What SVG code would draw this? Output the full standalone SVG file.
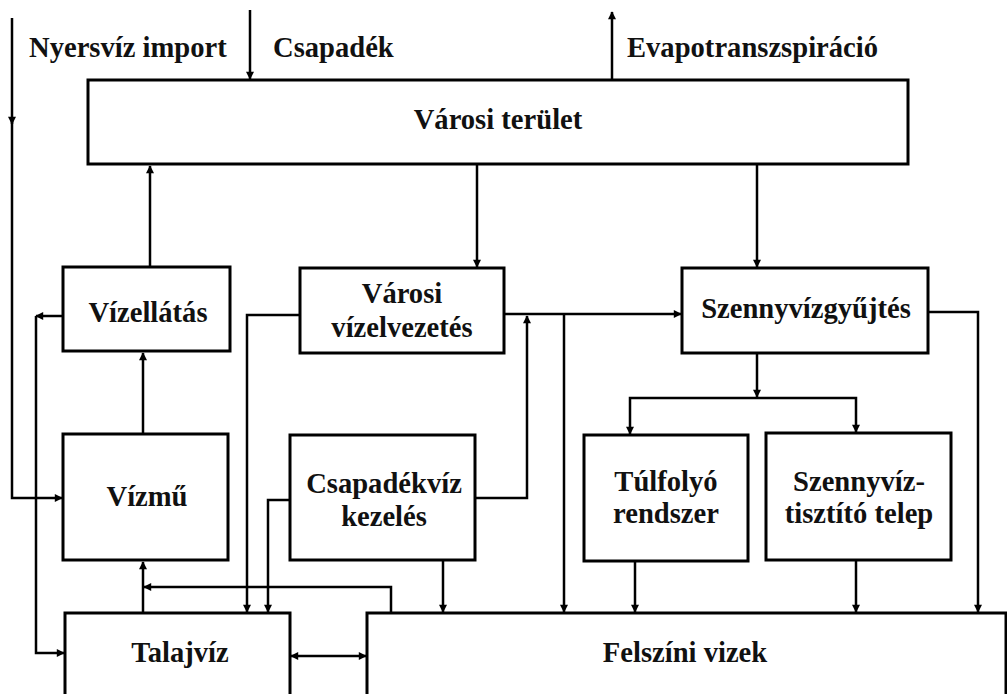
<svg xmlns="http://www.w3.org/2000/svg" width="1007" height="694" viewBox="0 0 1007 694">
<style>
.box{fill:#fff;stroke:#000;stroke-width:3}
.t{font-family:'Liberation Serif','Times New Roman','DejaVu Serif',serif;font-weight:bold;font-size:28.6px;fill:#111}
.c{text-anchor:middle}
.ln{fill:none;stroke:#000;stroke-width:2.5}
</style>
<defs>
<marker id="ah" viewBox="0 0 10 10" refX="9" refY="5" markerWidth="9" markerHeight="8" markerUnits="userSpaceOnUse" orient="auto-start-reverse">
<path d="M0,0 L10,5 L0,10 z" fill="#000"/>
</marker>
</defs>
<rect width="1007" height="694" fill="#fff"/>
<g id="connectors">
<path class="ln" d="M250,10 V79" marker-end="url(#ah)"/>
<path class="ln" d="M612,80 V12" marker-end="url(#ah)"/>
<path class="ln" d="M12,18 V124" marker-end="url(#ah)"/>
<path class="ln" d="M12,120 V498 H62" marker-end="url(#ah)"/>
<path class="ln" d="M150,267 V166" marker-end="url(#ah)"/>
<path class="ln" d="M143,434 V353" marker-end="url(#ah)"/>
<path class="ln" d="M63,316 H36" marker-end="url(#ah)"/>
<path class="ln" d="M36,316 V653 H64" marker-end="url(#ah)"/>
<path class="ln" d="M477,164 V267" marker-end="url(#ah)"/>
<path class="ln" d="M757,164 V267" marker-end="url(#ah)"/>
<path class="ln" d="M300,315 H247 V612" marker-end="url(#ah)"/>
<path class="ln" d="M504,314 H681" marker-end="url(#ah)"/>
<path class="ln" d="M475,498 H527 V316" marker-end="url(#ah)"/>
<path class="ln" d="M564,314 V612" marker-end="url(#ah)"/>
<path class="ln" d="M928,312 H978 V612" marker-end="url(#ah)"/>
<path class="ln" d="M757,353 V397" marker-end="url(#ah)"/>
<path class="ln" d="M757,398 H630 V434" marker-end="url(#ah)"/>
<path class="ln" d="M757,398 H856 V432" marker-end="url(#ah)"/>
<path class="ln" d="M635,561 V612" marker-end="url(#ah)"/>
<path class="ln" d="M856,560 V612" marker-end="url(#ah)"/>
<path class="ln" d="M290,500 H268 V612" marker-end="url(#ah)"/>
<path class="ln" d="M443,560 V612" marker-end="url(#ah)"/>
<path class="ln" d="M391,613 V587 H144" marker-end="url(#ah)"/>
<path class="ln" d="M143,613 V562" marker-end="url(#ah)"/>
<path class="ln" d="M291,656 H366" marker-start="url(#ah)" marker-end="url(#ah)"/>
</g>
<g id="varosi-terulet"><rect class="box" x="88" y="80" width="820" height="84"/><text class="t c" x="498" y="129">Városi terület</text></g>
<g id="vizellatas"><rect class="box" x="63" y="267" width="167" height="84"/><text class="t c" x="148" y="322">Vízellátás</text></g>
<g id="vizmu"><rect class="box" x="63" y="434" width="165" height="126"/><text class="t c" x="147" y="506">Vízmű</text></g>
<g id="varosi-vizelvezetes"><rect class="box" x="300" y="268" width="204" height="85"/><text class="t c" x="402" y="303">Városi</text><text class="t c" x="402" y="337">vízelvezetés</text></g>
<g id="csapadekviz-kezeles"><rect class="box" x="290" y="435" width="185" height="125"/><text class="t c" x="384" y="493">Csapadékvíz</text><text class="t c" x="384" y="526">kezelés</text></g>
<g id="szennyvizgyujtes"><rect class="box" x="682" y="268" width="246" height="85"/><text class="t c" x="806" y="318">Szennyvízgyűjtés</text></g>
<g id="tulfolyo"><rect class="box" x="584" y="435" width="164" height="126"/><text class="t c" x="666" y="491">Túlfolyó</text><text class="t c" x="666" y="523">rendszer</text></g>
<g id="szennyviztisztito"><rect class="box" x="766" y="433" width="185" height="127"/><text class="t c" x="859" y="491">Szennyvíz-</text><text class="t c" x="859" y="523">tisztító telep</text></g>
<g id="talajviz"><rect class="box" x="65" y="613" width="225" height="90"/><text class="t c" x="180" y="662">Talajvíz</text></g>
<g id="felszini-vizek"><rect class="box" x="367" y="613" width="639" height="90"/><text class="t c" x="685" y="662">Felszíni vizek</text></g>
<g id="labels">
<text class="t" x="29" y="57">Nyersvíz import</text>
<text class="t" x="273" y="57">Csapadék</text>
<text class="t" x="627" y="57">Evapotranszspiráció</text>
</g>
</svg>
